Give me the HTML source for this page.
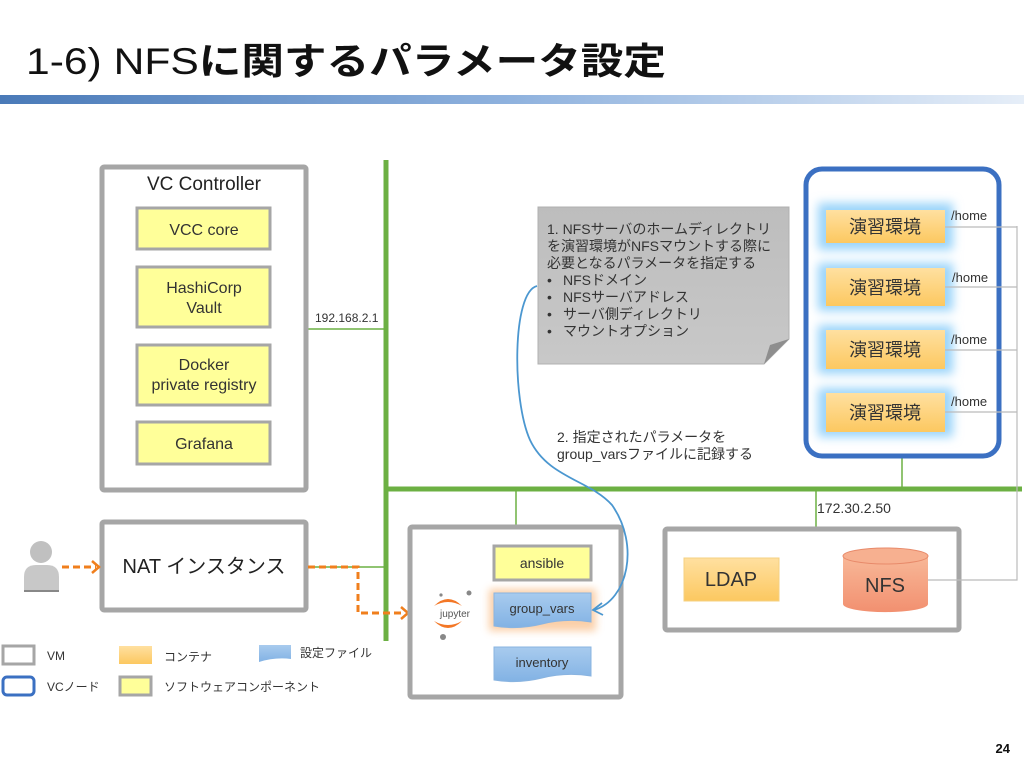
<!DOCTYPE html>
<html><head><meta charset="utf-8">
<style>
html,body{margin:0;padding:0;background:#fff;}
body{width:1024px;height:768px;overflow:hidden;font-family:"Liberation Sans","Noto Sans CJK JP",sans-serif;}
svg text{font-family:"Liberation Sans","Noto Sans CJK JP",sans-serif;}
</style></head><body>
<svg width="1024" height="768" viewBox="0 0 1024 768" xmlns="http://www.w3.org/2000/svg">
<defs>
<linearGradient id="bar" x1="0" x2="1" y1="0" y2="0">
<stop offset="0" stop-color="#4a7ab8"/><stop offset="0.5" stop-color="#8fb2de"/><stop offset="1" stop-color="#e6eef8"/>
</linearGradient>
<linearGradient id="org" x1="0" x2="0" y1="0" y2="1">
<stop offset="0" stop-color="#ffe0a0"/><stop offset="1" stop-color="#fcc860"/>
</linearGradient>
<linearGradient id="sal" x1="0" x2="0" y1="0" y2="1">
<stop offset="0" stop-color="#f8b898"/><stop offset="1" stop-color="#f29070"/>
</linearGradient>
<linearGradient id="blu" x1="0" x2="0" y1="0" y2="1">
<stop offset="0" stop-color="#a8cbee"/><stop offset="1" stop-color="#82b2e4"/>
</linearGradient>
<filter id="glowB" x="-30%" y="-50%" width="160%" height="200%"><feGaussianBlur stdDeviation="4"/></filter>
<filter id="glowC" x="-30%" y="-60%" width="160%" height="220%"><feGaussianBlur stdDeviation="5"/></filter>
<linearGradient id="note" x1="0" x2="0" y1="0" y2="1">
<stop offset="0" stop-color="#bdbdbd"/><stop offset="1" stop-color="#c8c8c8"/>
</linearGradient>
</defs>

<!-- Title -->
<text x="26" y="74" font-size="37" fill="#111" textLength="640" lengthAdjust="spacingAndGlyphs"><tspan>1-6) NFS</tspan><tspan font-weight="bold">に関するパラメータ設定</tspan></text>
<rect x="0" y="95" width="1024" height="9" fill="url(#bar)"/>

<!-- network lines -->
<line x1="386" y1="160" x2="386" y2="641" stroke="#6cb043" stroke-width="5"/>
<line x1="386" y1="489" x2="1022" y2="489" stroke="#6cb043" stroke-width="5"/>
<line x1="307" y1="329" x2="386" y2="329" stroke="#6cb043" stroke-width="1.5"/>
<line x1="307" y1="567" x2="386" y2="567" stroke="#6cb043" stroke-width="1.5"/>
<line x1="516" y1="489" x2="516" y2="526" stroke="#6cb043" stroke-width="1.5"/>
<line x1="816" y1="489" x2="816" y2="528" stroke="#6cb043" stroke-width="1.5"/>
<line x1="902" y1="456" x2="902" y2="489" stroke="#6cb043" stroke-width="1.5"/>
<text x="315" y="322" font-size="12" fill="#333">192.168.2.1</text>
<text x="817" y="513" font-size="14" fill="#333">172.30.2.50</text>

<!-- VC Controller -->
<rect x="102" y="167" width="204" height="323" fill="#fff" stroke="#a6a6a6" stroke-width="5" rx="2"/>
<text x="204" y="190" font-size="19" fill="#222" text-anchor="middle">VC Controller</text>
<g stroke="#a6a6a6" stroke-width="3" fill="#ffff99">
<rect x="137" y="208" width="133" height="41"/>
<rect x="137" y="267" width="133" height="60"/>
<rect x="137" y="345" width="133" height="60"/>
<rect x="137" y="422" width="133" height="42"/>
</g>
<g font-size="16" fill="#333" text-anchor="middle">
<text x="204" y="235">VCC core</text>
<text x="204" y="293">HashiCorp</text>
<text x="204" y="313">Vault</text>
<text x="204" y="370">Docker</text>
<text x="204" y="390">private registry</text>
<text x="204" y="449">Grafana</text>
</g>

<!-- person -->
<circle cx="41" cy="552" r="11" fill="#c0c0c0"/>
<path d="M24,592 L24,577 Q24,565 36,565 L47,565 Q59,565 59,577 L59,592 Z" fill="#c8c8c8"/>
<line x1="24" y1="591" x2="59" y2="591" stroke="#888" stroke-width="2"/>

<!-- NAT -->
<rect x="102" y="522" width="204" height="88" fill="#fff" stroke="#a6a6a6" stroke-width="5" rx="2"/>
<text x="204" y="573" font-size="20" fill="#222" text-anchor="middle">NAT インスタンス</text>

<!-- orange dashed arrows -->
<g stroke="#f07f1d" stroke-width="3" fill="none" stroke-dasharray="7,4">
<line x1="62" y1="567" x2="96" y2="567"/>
<polyline points="308,567 358,567 358,613 404,613"/>
</g>
<polyline points="92,561 99,567 92,573" stroke="#f07f1d" stroke-width="2.5" fill="none"/>
<polyline points="401,607 408,613 401,619" stroke="#f07f1d" stroke-width="2.5" fill="none"/>

<!-- jupyter box -->
<rect x="410" y="527" width="211" height="170" fill="#fff" stroke="#a6a6a6" stroke-width="5" rx="2"/>
<rect x="494" y="546" width="97" height="34" fill="#ffff99" stroke="#a6a6a6" stroke-width="3"/>
<text x="542" y="568" font-size="14" fill="#333" text-anchor="middle">ansible</text>
<rect x="489" y="589" width="107" height="42" fill="#f8b070" opacity="0.6" filter="url(#glowB)"/>
<path d="M494,593 L591,593 L591,622 Q566,618 542,624 Q518,630 494,626 Z" fill="url(#blu)" stroke="#8ab4e0" stroke-width="1"/>
<text x="542" y="613" font-size="13" fill="#333" text-anchor="middle">group_vars</text>
<path d="M494,647 L591,647 L591,676 Q566,672 542,678 Q518,684 494,680 Z" fill="url(#blu)" stroke="#8ab4e0" stroke-width="1"/>
<text x="542" y="667" font-size="13" fill="#333" text-anchor="middle">inventory</text>
<!-- jupyter logo -->
<path d="M434,606 Q448,592 462,606 Q448,598 434,606 Z" fill="#f37726"/>
<path d="M434,621 Q448,635 462,621 Q448,629 434,621 Z" fill="#f37726"/>
<circle cx="469" cy="593" r="2.5" fill="#888"/><circle cx="441" cy="595" r="1.6" fill="#888"/><circle cx="443" cy="637" r="3" fill="#888"/>
<text x="455" y="617" font-size="10" fill="#555" text-anchor="middle">jupyter</text>

<!-- LDAP NFS box -->
<rect x="665" y="529" width="294" height="101" fill="#fff" stroke="#a6a6a6" stroke-width="5" rx="2"/>
<rect x="684" y="558" width="95" height="43" fill="url(#org)" stroke="#f5d080" stroke-width="1"/>
<text x="731" y="586" font-size="20" fill="#333" text-anchor="middle">LDAP</text>
<path d="M843,556 L843,604 A42,8 0 0 0 928,604 L928,556 Z" fill="url(#sal)"/>
<ellipse cx="885.5" cy="556" rx="42.5" ry="8" fill="#f7b090" stroke="#e88a6a" stroke-width="1"/>
<text x="885" y="592" font-size="20" fill="#333" text-anchor="middle">NFS</text>
<polyline points="928,580 1017,580 1017,226" stroke="#bbb" stroke-width="1.2" fill="none"/>

<!-- VC node -->
<rect x="806" y="169" width="193" height="287" rx="16" fill="#fff" stroke="#3b70c2" stroke-width="5"/>
<g fill="#9ad4fa" filter="url(#glowC)">
<rect x="818" y="203" width="135" height="47"/>
<rect x="818" y="263" width="135" height="48"/>
<rect x="818" y="325" width="135" height="49"/>
<rect x="818" y="388" width="135" height="49"/>
</g>
<g fill="url(#org)">
<rect x="826" y="210" width="119" height="33"/>
<rect x="826" y="268" width="119" height="38"/>
<rect x="826" y="330" width="119" height="39"/>
<rect x="826" y="393" width="119" height="39"/>
</g>
<g font-size="18" fill="#333" text-anchor="middle">
<text x="885" y="233">演習環境</text>
<text x="885" y="294">演習環境</text>
<text x="885" y="356">演習環境</text>
<text x="885" y="419">演習環境</text>
</g>
<g stroke="#bbb" stroke-width="1.2">
<line x1="945" y1="227" x2="1017" y2="227"/>
<line x1="945" y1="287" x2="1017" y2="287"/>
<line x1="945" y1="350" x2="1017" y2="350"/>
<line x1="945" y1="412" x2="1017" y2="412"/>
</g>
<g font-size="13" fill="#333">
<text x="951" y="220">/home</text>
<text x="952" y="282">/home</text>
<text x="951" y="344">/home</text>
<text x="951" y="406">/home</text>
</g>

<!-- note -->
<path d="M538,207 L789,207 L789,339 L764,364 L538,364 Z" fill="url(#note)" stroke="#b0b0b0" stroke-width="1"/>
<path d="M764,364 L770,345 L789,339 Z" fill="#8e8e8e"/>
<g font-size="14" fill="#333">
<text x="547" y="234">1. NFSサーバのホームディレクトリ</text>
<text x="547" y="251">を演習環境がNFSマウントする際に</text>
<text x="547" y="268">必要となるパラメータを指定する</text>
<text x="547" y="285">•</text><text x="563" y="285">NFSドメイン</text>
<text x="547" y="302">•</text><text x="563" y="302">NFSサーバアドレス</text>
<text x="547" y="319">•</text><text x="563" y="319">サーバ側ディレクトリ</text>
<text x="547" y="336">•</text><text x="563" y="336">マウントオプション</text>
<text x="557" y="442">2. 指定されたパラメータを</text>
<text x="557" y="459">group_varsファイルに記録する</text>
</g>

<!-- blue curve -->
<path d="M537,286 C512,292 512,400 530,440 C548,478 590,480 612,505 C640,545 628,600 594,610" stroke="#4b97d0" stroke-width="1.8" fill="none"/>
<polyline points="602,603 593,610 603,615" stroke="#4b97d0" stroke-width="1.8" fill="none"/>

<!-- legend -->
<rect x="3" y="646" width="31" height="18" fill="#fff" stroke="#a6a6a6" stroke-width="3"/>
<text x="47" y="660" font-size="12" fill="#333">VM</text>
<rect x="3" y="677" width="31" height="18" rx="4" fill="#fff" stroke="#3b70c2" stroke-width="3"/>
<text x="47" y="691" font-size="12" fill="#333">VCノード</text>
<rect x="119" y="646" width="33" height="18" fill="url(#org)"/>
<text x="164" y="661" font-size="12" fill="#333">コンテナ</text>
<rect x="120" y="677" width="31" height="18" fill="#ffff99" stroke="#a6a6a6" stroke-width="3"/>
<text x="164" y="691" font-size="12" fill="#333">ソフトウェアコンポーネント</text>
<path d="M259,645 L291,645 L291,659 Q275,657 259,662 Z" fill="url(#blu)"/>
<text x="300" y="657" font-size="12" fill="#333">設定ファイル</text>

<text x="1010" y="753" font-size="13" font-weight="bold" fill="#111" text-anchor="end">24</text>
</svg>
</body></html>
